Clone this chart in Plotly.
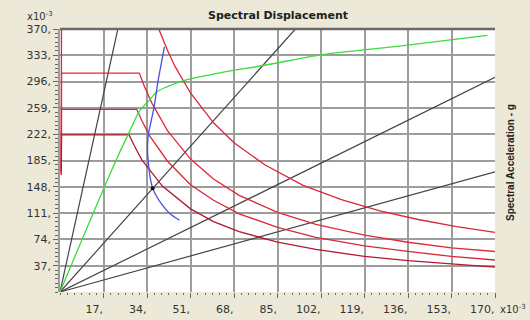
import plotly.graph_objects as go

# ---- axis ticks ----
x_ticks = [17, 34, 51, 68, 85, 102, 119, 136, 153, 170]
x_tick_labels = ["17,", "34,", "51,", "68,", "85,", "102,", "119,", "136,", "153,", "170,"]
y_ticks = [37, 74, 111, 148, 185, 222, 259, 296, 333, 370]
y_tick_labels = ["37,", "74,", "111,", "148,", "185,", "222,", "259,", "296,", "333,", "370,"]

# ---- capacity curve (green) ----
cap_x = [0, 22, 28, 31, 35, 38, 42, 49, 62, 80, 101, 135, 167]
cap_y = [0, 186, 232, 254, 270, 282, 289, 298, 308, 319, 333, 347, 361]

# ---- demand spectra (red) ----
s0_x = [0.5, 0.6, 32, 38.6, 42, 45, 51, 60, 68, 80, 95, 110, 125, 140, 155, 170]
s0_y = [165, 440, 440, 370, 340, 317, 280, 238, 210, 179, 150, 130, 114, 102, 92, 84]
s1_x = [0.5, 0.6, 31, 33, 36, 42, 51, 60, 70, 85, 100, 119, 136, 153, 170]
s1_y = [165, 308, 308, 289, 265, 227, 187, 159, 136, 112, 95, 80, 70, 62, 57]
s2_x = [0.5, 0.6, 30, 32, 35, 42, 51, 60, 70, 85, 100, 119, 136, 153, 170]
s2_y = [168, 257, 257, 241, 220, 184, 151, 129, 110, 91, 77, 65, 57, 50, 45]
s3_x = [0.5, 0.6, 27, 29, 32, 40, 51, 60, 70, 85, 100, 119, 136, 153, 170]
s3_y = [170, 221, 221, 206, 186, 149, 117, 99, 85, 70, 60, 50, 44, 39, 35]

# ---- modified demand (blue) ----
blue_x = [40.8, 39.5, 38, 36.9, 35.6, 34.5, 34.2, 34.6, 35.2, 36.2, 38, 40.1, 43, 46.7]
blue_y = [345, 320, 290, 263, 240, 221, 200, 180, 162, 146, 133, 122, 110, 101]

# ---- performance point ----
pp_x = [36.2]
pp_y = [146]

# ---- period lines (grey radial) ----
period_x = [[0, 22.6], [0, 92], [0, 170], [0, 170]]
period_y = [[0, 370], [0, 370], [0, 302], [0, 169]]

fig = go.Figure()

for px_, py_ in zip(period_x, period_y):
    fig.add_trace(go.Scatter(x=px_, y=py_, mode="lines",
                             line=dict(color="#454545", width=1.2), hoverinfo="skip"))

red_sets = [(s0_x, s0_y, "#D8283A"), (s1_x, s1_y, "#E0283A"),
            (s2_x, s2_y, "#D82838"), (s3_x, s3_y, "#B41830")]
for sx, sy, c in red_sets:
    fig.add_trace(go.Scatter(x=sx, y=sy, mode="lines",
                             line=dict(color=c, width=1.3), hoverinfo="skip"))

fig.add_trace(go.Scatter(x=cap_x, y=cap_y, mode="lines", line_shape="spline",
                         line=dict(color="#3CDC3C", width=1.3)))
fig.add_trace(go.Scatter(x=blue_x, y=blue_y, mode="lines", line_shape="spline",
                         line=dict(color="#4A50E0", width=1.3)))
fig.add_trace(go.Scatter(x=pp_x, y=pp_y, mode="markers",
                         marker=dict(color="#101010", size=4)))

tick_font = dict(family="DejaVu Sans", size=11, color="#333333")

fig.update_layout(
    width=530, height=320,
    margin=dict(l=60, r=35, t=29, b=28),
    paper_bgcolor="#ECE9D8",
    plot_bgcolor="#FFFFFF",
    showlegend=False,
    xaxis=dict(range=[0, 170], tickvals=x_ticks, ticktext=x_tick_labels,
               showgrid=True, gridcolor="#9C9C9C", gridwidth=1.8,
               zeroline=False, showline=False, automargin=False,
               ticks="outside", ticklen=5, tickwidth=1, tickcolor="#666666",
               ticklabelposition="outside left", ticklabelstandoff=7,
               minor=dict(dtick=17 / 6, ticks="outside", ticklen=2, tickcolor="#666666",
                          showgrid=False),
               tickfont=tick_font, fixedrange=True),
    yaxis=dict(range=[0, 370], tickvals=y_ticks, ticktext=y_tick_labels,
               showgrid=True, gridcolor="#9C9C9C", gridwidth=1.8,
               zeroline=False, showline=True, linecolor="#9C9C9C", linewidth=1.8,
               automargin=False,
               ticks="outside", ticklen=5, tickwidth=1, tickcolor="#666666",
               minor=dict(dtick=37 / 6, ticks="outside", ticklen=3, tickcolor="#666666",
                          showgrid=False),
               tickfont=tick_font, fixedrange=True),
    shapes=[dict(type="line", xref="paper", yref="paper", x0=0, x1=1, y0=1, y1=1,
                 line=dict(color="#6A6A6A", width=2.5))],
    annotations=[
        dict(text="<b>Spectral Displacement</b>", xref="paper", yref="paper",
             x=0.5, y=1, xanchor="center", yanchor="bottom", yshift=5, showarrow=False,
             font=dict(family="DejaVu Sans", size=11, color="#202020")),
        dict(text="<b>Spectral Acceleration - g</b>", xref="paper", yref="paper",
             x=1, y=0.5, xanchor="left", yanchor="middle", xshift=8, yshift=-2,
             textangle=-90, showarrow=False,
             font=dict(family="Liberation Sans", size=10, color="#202020")),
        dict(text="x10<sup>-3</sup>", xref="paper", yref="paper",
             x=0, y=1, xanchor="right", yanchor="bottom", xshift=-5, yshift=5,
             showarrow=False,
             font=dict(family="DejaVu Sans", size=10, color="#333333")),
        dict(text="x10<sup>-3</sup>", xref="paper", yref="paper",
             x=1, y=0, xanchor="left", yanchor="top", xshift=3, yshift=-9,
             showarrow=False,
             font=dict(family="DejaVu Sans", size=10, color="#333333")),
    ],
)

fig.write_html("out.html")
